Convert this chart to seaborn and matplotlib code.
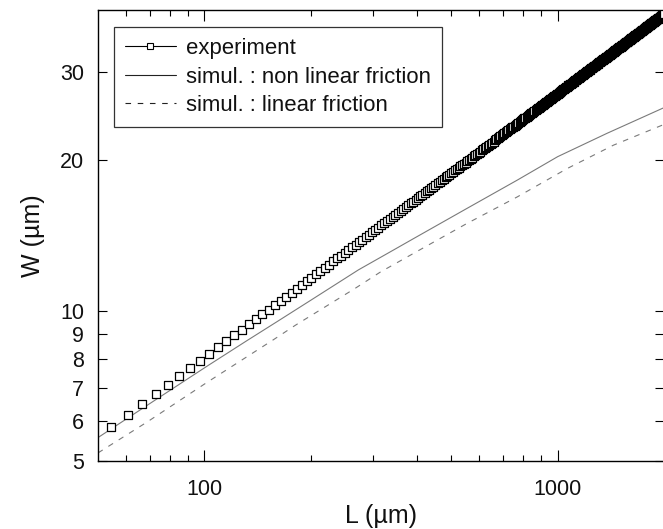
import matplotlib
matplotlib.use("Agg")
import matplotlib.pyplot as plt
from matplotlib.lines import Line2D
from matplotlib.ticker import FixedLocator, FixedFormatter, NullFormatter, NullLocator
import seaborn as sns
import pandas as pd

# ---------------- data ----------------
exp_L = [
    54.5, 60.6, 66.7, 72.8, 78.9, 85.0, 91.1, 97.2, 103.3, 109.4,
    115.5, 121.6, 127.7, 133.8, 139.9, 146.0, 152.1, 158.2, 164.3, 170.4,
    176.5, 182.6, 188.7, 194.8, 200.9, 207.0, 213.1, 219.2, 225.3, 231.4,
    237.5, 243.6, 249.7, 255.8, 261.9, 268.0, 274.1, 280.2, 286.3, 292.4,
    298.5, 304.6, 310.7, 316.8, 322.9, 329.0, 335.1, 341.2, 347.3, 353.4,
    359.5, 365.6, 371.7, 377.8, 383.9, 390.0, 396.1, 402.2, 408.3, 414.4,
    420.5, 426.6, 432.7, 438.8, 444.9, 451.0, 457.1, 463.2, 469.3, 475.4,
    481.5, 487.6, 493.7, 499.8, 505.9, 512.0, 518.1, 524.2, 530.3, 536.4,
    542.5, 548.6, 554.7, 560.8, 566.9, 573.0, 579.1, 585.2, 591.3, 597.4,
    603.5, 609.6, 615.7, 621.8, 627.9, 634.0, 640.1, 646.2, 652.3, 658.4,
    664.5, 670.6, 676.7, 682.8, 688.9, 695.0, 701.1, 707.2, 713.3, 719.4,
    725.5, 731.6, 737.7, 743.8, 749.9, 756.0, 762.1, 768.2, 774.3, 780.4,
    786.5, 792.6, 798.7, 804.8, 810.9, 817.0, 823.1, 829.2, 835.3, 841.4,
    847.5, 853.6, 859.7, 865.8, 871.9, 878.0, 884.1, 890.2, 896.3, 902.4,
    908.5, 914.6, 920.7, 926.8, 932.9, 939.0, 945.1, 951.2, 957.3, 963.4,
    969.5, 975.6, 981.7, 987.8, 993.9, 1000.0, 1006.1, 1012.2, 1018.3, 1024.4,
    1030.5, 1036.6, 1042.7, 1048.8, 1054.9, 1061.0, 1067.1, 1073.2, 1079.3, 1085.4,
    1091.5, 1097.6, 1103.7, 1109.8, 1115.9, 1122.0, 1128.1, 1134.2, 1140.3, 1146.4,
    1152.5, 1158.6, 1164.7, 1170.8, 1176.9, 1183.0, 1189.1, 1195.2, 1201.3, 1207.4,
    1213.5, 1219.6, 1225.7, 1231.8, 1237.9, 1244.0, 1250.1, 1256.2, 1262.3, 1268.4,
    1274.5, 1280.6, 1286.7, 1292.8, 1298.9, 1305.0, 1311.1, 1317.2, 1323.3, 1329.4,
    1335.5, 1341.6, 1347.7, 1353.8, 1359.9, 1366.0, 1372.1, 1378.2, 1384.3, 1390.4,
    1396.5, 1402.6, 1408.7, 1414.8, 1420.9, 1427.0, 1433.1, 1439.2, 1445.3, 1451.4,
    1457.5, 1463.6, 1469.7, 1475.8, 1481.9, 1488.0, 1494.1, 1500.2, 1506.3, 1512.4,
    1518.5, 1524.6, 1530.7, 1536.8, 1542.9, 1549.0, 1555.1, 1561.2, 1567.3, 1573.4,
    1579.5, 1585.6, 1591.7, 1597.8, 1603.9, 1610.0, 1616.1, 1622.2, 1628.3, 1634.4,
    1640.5, 1646.6, 1652.7, 1658.8, 1664.9, 1671.0, 1677.1, 1683.2, 1689.3, 1695.4,
    1701.5, 1707.6, 1713.7, 1719.8, 1725.9, 1732.0, 1738.1, 1744.2, 1750.3, 1756.4,
    1762.5, 1768.6, 1774.7, 1780.8, 1786.9, 1793.0, 1799.1, 1805.2, 1811.3, 1817.4,
    1823.5, 1829.6, 1835.7, 1841.8, 1847.9, 1854.0, 1860.1, 1866.2, 1872.3, 1878.4,
    1884.5, 1890.6, 1896.7, 1902.8, 1908.9, 1915.0, 1921.1, 1927.2, 1933.3, 1939.4,
    1945.5, 1951.6, 1957.7, 1963.8, 1969.9, 1976.0, 1982.1, 1988.2, 1994.3,
]
exp_W = [
    5.84, 6.18, 6.50, 6.81, 7.10, 7.39, 7.66, 7.93, 8.19, 8.44,
    8.69, 8.93, 9.16, 9.39, 9.62, 9.83, 10.05, 10.26, 10.47, 10.67,
    10.87, 11.07, 11.26, 11.45, 11.64, 11.83, 12.01, 12.19, 12.37, 12.55,
    12.72, 12.89, 13.06, 13.23, 13.40, 13.56, 13.72, 13.88, 14.04, 14.20,
    14.36, 14.51, 14.66, 14.81, 14.96, 15.11, 15.26, 15.41, 15.55, 15.70,
    15.84, 15.98, 16.12, 16.26, 16.40, 16.54, 16.67, 16.81, 16.94, 17.08,
    17.21, 17.34, 17.47, 17.59, 17.72, 17.85, 17.98, 18.11, 18.23, 18.36,
    18.49, 18.61, 18.73, 18.85, 18.97, 19.09, 19.21, 19.33, 19.45, 19.57,
    19.69, 19.80, 19.92, 20.03, 20.15, 20.26, 20.37, 20.49, 20.60, 20.72,
    20.83, 20.94, 21.05, 21.16, 21.27, 21.38, 21.48, 21.59, 21.70, 21.81,
    21.92, 22.03, 22.13, 22.24, 22.34, 22.45, 22.55, 22.66, 22.76, 22.87,
    22.97, 23.07, 23.17, 23.27, 23.37, 23.47, 23.57, 23.67, 23.77, 23.87,
    23.97, 24.07, 24.16, 24.26, 24.35, 24.45, 24.55, 24.64, 24.74, 24.83,
    24.93, 25.02, 25.12, 25.21, 25.31, 25.40, 25.49, 25.59, 25.68, 25.78,
    25.87, 25.96, 26.05, 26.14, 26.23, 26.32, 26.41, 26.50, 26.59, 26.68,
    26.77, 26.86, 26.95, 27.03, 27.12, 27.21, 27.30, 27.39, 27.47, 27.56,
    27.65, 27.74, 27.82, 27.91, 27.99, 28.08, 28.16, 28.25, 28.33, 28.42,
    28.50, 28.58, 28.67, 28.75, 28.84, 28.92, 29.00, 29.09, 29.17, 29.26,
    29.34, 29.42, 29.50, 29.58, 29.66, 29.75, 29.83, 29.91, 29.99, 30.07,
    30.15, 30.23, 30.31, 30.39, 30.47, 30.55, 30.62, 30.70, 30.78, 30.86,
    30.94, 31.02, 31.10, 31.17, 31.25, 31.33, 31.41, 31.49, 31.56, 31.64,
    31.72, 31.80, 31.87, 31.95, 32.02, 32.10, 32.17, 32.25, 32.32, 32.40,
    32.47, 32.55, 32.62, 32.70, 32.77, 32.85, 32.92, 33.00, 33.07, 33.15,
    33.22, 33.29, 33.36, 33.44, 33.51, 33.58, 33.65, 33.72, 33.80, 33.87,
    33.94, 34.01, 34.08, 34.16, 34.23, 34.30, 34.37, 34.44, 34.52, 34.59,
    34.66, 34.73, 34.80, 34.87, 34.94, 35.01, 35.08, 35.15, 35.22, 35.29,
    35.36, 35.43, 35.50, 35.57, 35.64, 35.71, 35.77, 35.84, 35.91, 35.98,
    36.05, 36.12, 36.19, 36.25, 36.32, 36.39, 36.46, 36.53, 36.59, 36.66,
    36.73, 36.80, 36.86, 36.93, 37.00, 37.07, 37.13, 37.20, 37.27, 37.33,
    37.40, 37.47, 37.53, 37.60, 37.66, 37.73, 37.79, 37.86, 37.92, 37.99,
    38.05, 38.12, 38.18, 38.25, 38.31, 38.38, 38.44, 38.51, 38.57, 38.64,
    38.70, 38.76, 38.83, 38.89, 38.95, 39.02, 39.08, 39.15, 39.21,
]

nonlin_L = [50, 73, 102, 132, 160, 200, 273, 342, 393, 550, 769, 1000, 1379, 2000]
nonlin_W = [5.57, 6.64, 7.75, 8.71, 9.49, 10.49, 12.07, 13.21, 13.97, 15.98, 18.26, 20.34, 22.65, 25.5]

lin_L = [50, 69, 101, 157, 181, 267, 315, 420, 549, 769, 1063, 1439, 2000]
lin_W = [5.19, 5.99, 7.16, 8.75, 9.35, 11.08, 11.95, 13.4, 14.9, 16.9, 19.25, 21.45, 23.6]

x_major_ticks = [100, 1000]
x_major_labels = ["100", "1000"]
x_minor_ticks = [60, 70, 80, 90, 200, 300, 400, 500, 600, 700, 800, 900]
y_ticks = [5, 6, 7, 8, 9, 10, 20, 30]
y_labels = ["5", "6", "7", "8", "9", "10", "20", "30"]

legend_labels = ["experiment", "simul. : non linear friction", "simul. : linear friction"]

# ---------------- style ----------------
sns.set_theme(style="ticks")
plt.rcParams["font.family"] = ["Liberation Sans", "DejaVu Sans"]
plt.rcParams["axes.linewidth"] = 1.0
plt.rcParams["axes.edgecolor"] = "black"

fig = plt.figure(figsize=(6.63, 5.29), dpi=100)
ax = fig.add_axes([98 / 663, 68 / 529, 566 / 663, 451 / 529])

sim_color = "#7a7a7a"
df_nl = pd.DataFrame({"L": nonlin_L, "W": nonlin_W})
df_l = pd.DataFrame({"L": lin_L, "W": lin_W})
df_e = pd.DataFrame({"L": exp_L, "W": exp_W})

sns.lineplot(data=df_nl, x="L", y="W", ax=ax, color=sim_color, linewidth=0.8,
             estimator=None, sort=False, zorder=2)
sns.lineplot(data=df_l, x="L", y="W", ax=ax, color=sim_color, linewidth=0.8,
             estimator=None, sort=False, zorder=2)
ax.lines[-1].set_dashes([5, 6])

sns.scatterplot(data=df_e, x="L", y="W", ax=ax, marker="s", s=30,
                facecolor="white", edgecolor="black", linewidth=0.9, zorder=3)

ax.set_xscale("log")
ax.set_yscale("log")
ax.set_xlim(50, 2000)
ax.set_ylim(5, 40)

ax.xaxis.set_major_locator(FixedLocator(x_major_ticks))
ax.xaxis.set_major_formatter(FixedFormatter(x_major_labels))
ax.xaxis.set_minor_locator(FixedLocator(x_minor_ticks))
ax.xaxis.set_minor_formatter(NullFormatter())
ax.yaxis.set_major_locator(FixedLocator(y_ticks))
ax.yaxis.set_major_formatter(FixedFormatter(y_labels))
ax.yaxis.set_minor_locator(NullLocator())

ax.tick_params(which="both", direction="in", top=True, right=True,
               color="black", width=0.8, labelsize=15.5, labelcolor="#111111")
ax.tick_params(axis="x", which="major", length=8, pad=13)
ax.tick_params(axis="x", which="minor", length=4)
ax.tick_params(axis="y", which="major", length=6.5, pad=10)

ax.set_xlabel("L (\u00b5m)", fontsize=18, labelpad=2.5, color="#111111")
ax.set_ylabel("W (\u00b5m)", fontsize=18, labelpad=11, color="#111111")

handles = [
    Line2D([], [], color="black", linewidth=0.8, marker="s", markersize=5,
           markerfacecolor="white", markeredgecolor="black", markeredgewidth=0.8),
    Line2D([], [], color="#222222", linewidth=0.8),
    Line2D([], [], color="#222222", linewidth=0.8, dashes=[5, 6]),
]
leg = ax.legend(handles, legend_labels, loc="upper left",
                bbox_to_anchor=(16 / 566, 1 - 17 / 451), borderaxespad=0,
                fontsize=15.9, frameon=True, fancybox=False, shadow=False,
                handlelength=2.3, handletextpad=0.45, labelspacing=0.34,
                borderpad=0.5, numpoints=1)
leg.get_frame().set_edgecolor("#333333")
leg.get_frame().set_linewidth(0.9)
leg.get_frame().set_alpha(1)
for t in leg.get_texts():
    t.set_color("#111111")

fig.savefig("out.png", dpi=100)
